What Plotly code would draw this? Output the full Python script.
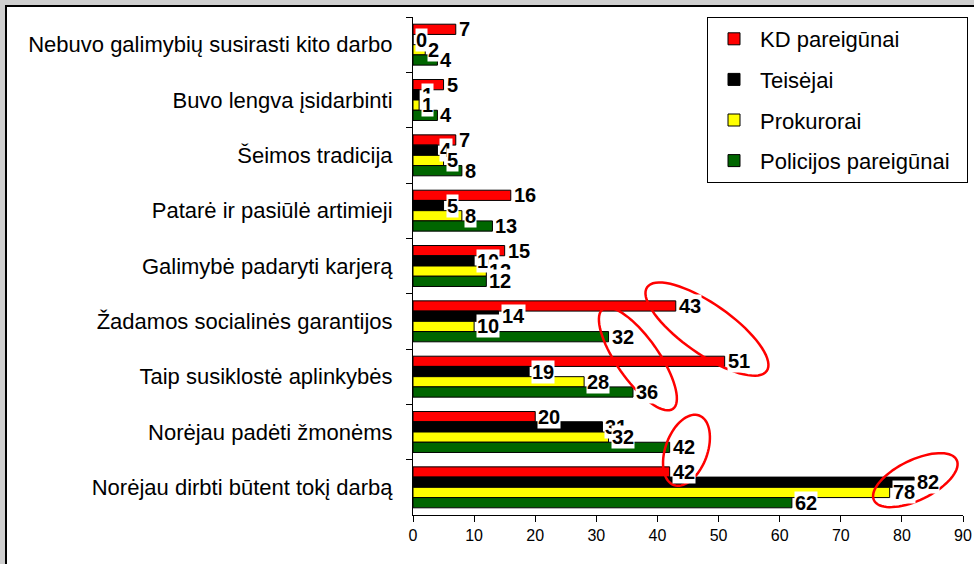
import math

import plotly.graph_objects as go


# categories, top to bottom as shown
categories = [
    "Nebuvo galimybių susirasti kito darbo",
    "Buvo lengva įsidarbinti",
    "Šeimos tradicija",
    "Patarė ir pasiūlė artimieji",
    "Galimybė padaryti karjerą",
    "Žadamos socialinės garantijos",
    "Taip susiklostė aplinkybės",
    "Norėjau padėti žmonėms",
    "Norėjau dirbti būtent tokį darbą",
]

series_names = ["KD pareigūnai", "Teisėjai", "Prokurorai", "Policijos pareigūnai"]
kd = [7, 5, 7, 16, 15, 43, 51, 20, 42]
teisejai = [0, 1, 4, 5, 10, 14, 19, 31, 82]
prokurorai = [2, 1, 5, 8, 12, 10, 28, 32, 78]
policija = [4, 4, 8, 13, 12, 32, 36, 42, 62]
series_values = [kd, teisejai, prokurorai, policija]
colors = ["#ff0000", "#000000", "#ffff00", "#006600"]

x_ticks = [0, 10, 20, 30, 40, 50, 60, 70, 80, 90]

FONT = "Liberation Sans, Arial, sans-serif"
W, H = 974, 564
M_L, M_R, M_T, M_B = 413, 11, 17, 49
BARGAP = 0.26

plot_w = W - M_L - M_R
plot_h = H - M_T - M_B
sx = plot_w / 90.0            # px per x unit
sy = plot_h / len(categories)  # px per category


def ellipse_path(cx, cy, a, b, angle_deg, n=72):
    # cx, cy in data units (y as category index), a/b semi-axes in px
    t = math.radians(angle_deg)
    pts = []
    for k in range(n + 1):
        u = 2 * math.pi * k / n
        px = a * math.cos(u) * math.cos(t) - b * math.sin(u) * math.sin(t)
        py = a * math.cos(u) * math.sin(t) + b * math.sin(u) * math.cos(t)
        pts.append((cx + px / sx, cy + py / sy))
    return "M" + " L".join(f"{x:.3f},{y:.3f}" for x, y in pts) + " Z"


fig = go.Figure()
longest = max(series_names, key=len)
for name, vals, col in zip(series_names, series_values, colors):
    # a little trailing room in the legend, like the original box
    label = name + "\u00a0\u00a0" if name == longest else name
    fig.add_trace(go.Bar(
        y=categories,
        x=vals,
        name=label,
        orientation="h",
        marker=dict(color=col, line=dict(color="black", width=1)),
        legendgroup=name,
    ))

# value labels with white boxes, placed on each bar end
bw = (1 - BARGAP) / len(series_names)
annotations = []
for i, vals in enumerate(series_values):
    off = -(1 - BARGAP) / 2 + bw * (i + 0.5)
    for j, v in enumerate(vals):
        annotations.append(dict(
            x=v, y=j + off, xref="x", yref="y",
            text=f"<b>{v}</b>", showarrow=False,
            xanchor="left", yanchor="middle", xshift=2,
            bgcolor="white", borderpad=0,
            font=dict(family=FONT, size=20, color="black"),
        ))

shapes = [
    # chart frame on the gray slide background
    dict(type="rect", xref="paper", yref="paper",
         x0=(6 - M_L) / plot_w, x1=1.2, y0=-0.2, y1=(H - M_B - 6) / plot_h,
         fillcolor="white", line=dict(color="black", width=2), layer="below"),
]
# red hand-drawn ellipses
for cx, cy, a, b, ang in [
    (48.1, 5.14, 73, 25, 35),
    (36.8, 5.68, 61, 21, 55),
    (44.75, 7.33, 37, 21, -70),
    (82.2, 7.87, 46, 20, -26),
]:
    shapes.append(dict(type="path", xref="x", yref="y",
                       path=ellipse_path(cx, cy, a, b, ang),
                       line=dict(color="#ff0000", width=2.5)))

fig.update_layout(
    width=W, height=H,
    margin=dict(l=M_L, r=M_R, t=M_T, b=M_B, pad=0, autoexpand=False),
    barmode="group", bargap=BARGAP, bargroupgap=0,
    paper_bgcolor="#cfcfcf", plot_bgcolor="white",
    font=dict(family=FONT, color="black"),
    showlegend=True,
    legend=dict(
        x=(968 - M_L) / plot_w, xanchor="right", y=1, yanchor="top",
        bgcolor="white", bordercolor="black", borderwidth=1,
        font=dict(family=FONT, size=22, color="black"),
        traceorder="grouped", tracegroupgap=9, itemwidth=42,
    ),
    annotations=annotations,
    shapes=shapes,
)
fig.update_xaxes(
    range=[0, 90], tickvals=x_ticks, showgrid=False, zeroline=False,
    showline=True, linecolor="black", linewidth=1, automargin=False,
    ticks="outside", ticklen=6, tickcolor="black",
    tickfont=dict(family=FONT, size=16, color="black"),
)
fig.update_yaxes(
    type="category", categoryorder="array", categoryarray=categories,
    autorange="reversed", showgrid=False, zeroline=False,
    showline=True, linecolor="black", linewidth=1, automargin=False,
    ticks="outside", ticklen=6, tickcolor="black", tickson="boundaries",
    tickfont=dict(family=FONT, size=22, color="black"), ticklabelstandoff=15,
)

fig.write_html("out.html", config={"displayModeBar": False},
               post_script="document.body.style.margin='0';")
